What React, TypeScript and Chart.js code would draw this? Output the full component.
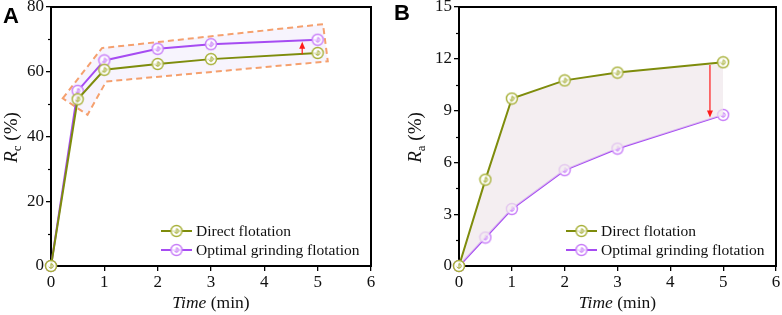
import React, { useEffect, useRef } from "react";
import { Chart, registerables } from "chart.js";

Chart.register(...registerables);

// ---------- data ----------
const timeMin = [0, 0.5, 1, 2, 3, 5];
const rcDirect = [0, 51.5, 60.6, 62.4, 63.9, 65.8];
const rcOptimal = [0, 54.1, 63.5, 67.1, 68.5, 69.9];
const raDirect = [0, 5.0, 9.7, 10.75, 11.2, 11.8];
const raOptimal = [0, 1.65, 3.3, 5.55, 6.8, 8.75];
const seriesNames = ["Direct flotation", "Optimal grinding flotation"];
const xRange = [0, 6];
const rcRange = [0, 80];
const raRange = [0, 15];
// highlight polygon on panel A (data coordinates: time, %)
const rcBoxX = [0.22, 0.955, 5.1, 5.19, 1.035, 0.685];
const rcBoxY = [51.8, 67.3, 74.7, 63.2, 57.0, 46.7];
// arrows (time, from %, to %)
const rcArrow = [4.71, 65.4, 69.3];
const raArrow = [4.75, 11.64, 8.6];

const DIRECT_LINE = "#7e8c0c";
const DIRECT_MARK = "#a7b038";
const OPT_LINE = "#a64cf2";
const OPT_MARK = "#c77cf8";

function makeMarker(color: string): HTMLCanvasElement {
  const size = 14;
  const c = document.createElement("canvas");
  c.width = size;
  c.height = size;
  const ctx = c.getContext("2d")!;
  const m = size / 2;
  ctx.fillStyle = "rgba(255,255,255,0.85)";
  ctx.beginPath();
  ctx.arc(m, m, 5.5, 0, Math.PI * 2);
  ctx.fill();
  ctx.strokeStyle = color;
  ctx.lineWidth = 1.4;
  ctx.stroke();
  ctx.lineWidth = 1;
  ctx.beginPath();
  ctx.arc(m, m, 2.2, -Math.PI / 2, Math.PI * 0.9);
  ctx.stroke();
  ctx.beginPath();
  ctx.moveTo(m, m - 2.5);
  ctx.lineTo(m, m + 2.5);
  ctx.stroke();
  return c;
}

type Spec = {
  key: string;
  letter: string;
  sub: string;
  direct: number[];
  optimal: number[];
  yRange: number[];
  yStep: number;
  yMinor: number;
  axisW: number;
  padRight: number;
  letterX: number;
  letterY: number;
  titleX: number;
  fillBetween: boolean;
  box: boolean;
  arrow: number[];
};

function Panel({ spec, left }: { spec: Spec; left: number }) {
  const ref = useRef<HTMLCanvasElement | null>(null);
  useEffect(() => {
    const canvas = ref.current;
    if (!canvas) return;
    const mDirect = makeMarker(DIRECT_MARK);
    const mOpt = makeMarker(OPT_MARK);
    const serif = "'Liberation Serif', 'Times New Roman', serif";

    const plugin = {
      id: "deco" + spec.key,
      beforeDatasetsDraw(chart: any) {
        const { ctx, chartArea: ca, scales } = chart;
        const x = scales.x;
        const y = scales.y;
        ctx.save();
        if (spec.box) {
          ctx.beginPath();
          rcBoxX.forEach((vx, i) => {
            const px = x.getPixelForValue(vx);
            const py = y.getPixelForValue(rcBoxY[i]);
            if (i === 0) ctx.moveTo(px, py);
            else ctx.lineTo(px, py);
          });
          ctx.closePath();
          ctx.fillStyle = "rgba(242,236,252,0.6)";
          ctx.fill();
          ctx.setLineDash([6, 4]);
          ctx.strokeStyle = "#f5a06e";
          ctx.lineWidth = 2;
          ctx.stroke();
          ctx.setLineDash([]);
        }
        // frame
        ctx.strokeStyle = "#000";
        ctx.lineWidth = 2;
        ctx.strokeRect(ca.left, ca.top, ca.right - ca.left, ca.bottom - ca.top);
        // minor ticks on y
        ctx.lineWidth = 1.2;
        for (let v = spec.yRange[0] + spec.yMinor; v < spec.yRange[1]; v += spec.yStep) {
          const py = Math.round(y.getPixelForValue(v)) + 0.5;
          ctx.beginPath();
          ctx.moveTo(ca.left - 3, py);
          ctx.lineTo(ca.left, py);
          ctx.stroke();
        }
        ctx.restore();
      },
      afterDatasetsDraw(chart: any) {
        const { ctx, scales } = chart;
        const x = scales.x;
        const y = scales.y;
        const ax = x.getPixelForValue(spec.arrow[0]);
        const y0 = y.getPixelForValue(spec.arrow[1]);
        const y1 = y.getPixelForValue(spec.arrow[2]);
        const dir = y1 < y0 ? -1 : 1;
        ctx.save();
        ctx.strokeStyle = "#ff1a1a";
        ctx.fillStyle = "#ff1a1a";
        ctx.lineWidth = 1.2;
        ctx.beginPath();
        ctx.moveTo(ax, y0);
        ctx.lineTo(ax, y1 - dir * 5);
        ctx.stroke();
        ctx.beginPath();
        ctx.moveTo(ax, y1);
        ctx.lineTo(ax - 3, y1 - dir * 7);
        ctx.lineTo(ax + 3, y1 - dir * 7);
        ctx.closePath();
        ctx.fill();
        ctx.restore();
      },
      afterDraw(chart: any) {
        const { ctx, chartArea: ca } = chart;
        ctx.save();
        ctx.fillStyle = "#111";
        // legend
        const rows = [
          { name: seriesNames[0], line: DIRECT_LINE, mk: mDirect, y: ca.bottom - 35 },
          { name: seriesNames[1], line: OPT_LINE, mk: mOpt, y: ca.bottom - 16 },
        ];
        rows.forEach((r) => {
          const x1 = ca.right - 210;
          const x2 = ca.right - 179;
          ctx.strokeStyle = r.line;
          ctx.lineWidth = 2;
          ctx.beginPath();
          ctx.moveTo(x1, r.y);
          ctx.lineTo(x2, r.y);
          ctx.stroke();
          ctx.drawImage(r.mk, (x1 + x2) / 2 - 7, r.y - 7);
          ctx.fillStyle = "#111";
          ctx.font = "15.5px " + serif;
          ctx.textBaseline = "middle";
          ctx.textAlign = "left";
          ctx.fillText(r.name, ca.right - 175, r.y + 1);
        });
        // x title
        ctx.textBaseline = "alphabetic";
        ctx.font = "italic 17.5px " + serif;
        const t1 = "Time";
        const w1 = ctx.measureText(t1).width;
        ctx.font = "17.5px " + serif;
        const t2 = " (min)";
        const w2 = ctx.measureText(t2).width;
        const cx = (ca.left + ca.right) / 2;
        let sx = cx - (w1 + w2) / 2;
        ctx.font = "italic 17.5px " + serif;
        ctx.fillText(t1, sx, 307.5);
        ctx.font = "17.5px " + serif;
        ctx.fillText(t2, sx + w1, 307.5);
        // y title
        ctx.save();
        const cy = (ca.top + ca.bottom) / 2 + 1;
        ctx.translate(spec.titleX, cy);
        ctx.rotate(-Math.PI / 2);
        ctx.font = "italic 19px " + serif;
        const a = "R";
        const wa = ctx.measureText(a).width;
        ctx.font = "13px " + serif;
        const wb = ctx.measureText(spec.sub).width;
        ctx.font = "19px " + serif;
        const c = " (%)";
        const wc = ctx.measureText(c).width;
        let tx = -(wa + wb + wc) / 2;
        ctx.font = "italic 19px " + serif;
        ctx.fillText(a, tx, 0);
        ctx.font = "13px " + serif;
        ctx.fillText(spec.sub, tx + wa, 4);
        ctx.font = "19px " + serif;
        ctx.fillText(c, tx + wa + wb, 0);
        ctx.restore();
        // panel letter
        ctx.font = "bold 22px 'Liberation Sans', Arial, sans-serif";
        ctx.fillStyle = "#000";
        ctx.fillText(spec.letter, spec.letterX, spec.letterY);
        ctx.restore();
      },
    };

    const fitY = (s: any) => {
      s.width = spec.axisW;
      s.paddingTop = 0;
      s.paddingBottom = 0;
    };
    const fitX = (s: any) => {
      s.height = 49;
      s.paddingLeft = 0;
      s.paddingRight = 0;
    };

    const chart = new Chart(canvas, {
      type: "line",
      data: {
        datasets: [
          {
            label: seriesNames[0],
            data: timeMin.map((t, i) => ({ x: t, y: spec.direct[i] })),
            borderColor: DIRECT_LINE,
            backgroundColor: "rgba(240,231,235,0.7)",
            borderWidth: 2,
            pointStyle: mDirect as any,
            fill: spec.fillBetween ? "+1" : false,
            tension: 0,
            clip: false as any,
          },
          {
            label: seriesNames[1],
            data: timeMin.map((t, i) => ({ x: t, y: spec.optimal[i] })),
            borderColor: OPT_LINE,
            backgroundColor: "transparent",
            borderWidth: 2,
            pointStyle: mOpt as any,
            fill: false,
            tension: 0,
            clip: false as any,
          },
        ],
      },
      options: {
        responsive: false,
        animation: false,
        devicePixelRatio: 1,
        layout: { autoPadding: false, padding: { top: 7, right: spec.padRight, left: 0, bottom: 0 } },
        plugins: { legend: { display: false }, tooltip: { enabled: false } },
        scales: {
          x: {
            type: "linear",
            min: xRange[0],
            max: xRange[1],
            afterFit: fitX,
            ticks: { stepSize: 1, color: "#111", font: { family: serif, size: 17 }, padding: 1 },
            grid: { drawOnChartArea: false, drawTicks: true, tickLength: 5, color: "#000", lineWidth: 1.3 },
            border: { display: true, color: "#000", width: 2 },
          },
          y: {
            type: "linear",
            min: spec.yRange[0],
            max: spec.yRange[1],
            afterFit: fitY,
            ticks: { stepSize: spec.yStep, color: "#111", font: { family: serif, size: 17 }, padding: 2 },
            grid: { drawOnChartArea: false, drawTicks: true, tickLength: 5, color: "#000", lineWidth: 1.3 },
            border: { display: true, color: "#000", width: 2 },
          },
        },
      },
      plugins: [plugin],
    } as any);
    return () => chart.destroy();
  }, [spec]);
  return (
    <canvas
      ref={ref}
      width={391}
      height={315}
      style={{ position: "absolute", left, top: 0, width: 391, height: 315 }}
    />
  );
}

const specA: Spec = {
  key: "A",
  letter: "A",
  sub: "c",
  direct: rcDirect,
  optimal: rcOptimal,
  yRange: rcRange,
  yStep: 20,
  yMinor: 10,
  axisW: 51,
  padRight: 20,
  letterX: 3,
  letterY: 23,
  titleX: 17,
  fillBetween: false,
  box: true,
  arrow: rcArrow,
};

const specB: Spec = {
  key: "B",
  letter: "B",
  sub: "a",
  direct: raDirect,
  optimal: raOptimal,
  yRange: raRange,
  yStep: 3,
  yMinor: 1.5,
  axisW: 68,
  padRight: 6,
  letterX: 3,
  letterY: 20,
  titleX: 30,
  fillBetween: true,
  box: false,
  arrow: raArrow,
};

export default function App() {
  return (
    <div style={{ position: "fixed", left: 0, top: 0, width: 782, height: 315, background: "#fff" }}>
      <Panel spec={specA} left={0} />
      <Panel spec={specB} left={391} />
    </div>
  );
}
